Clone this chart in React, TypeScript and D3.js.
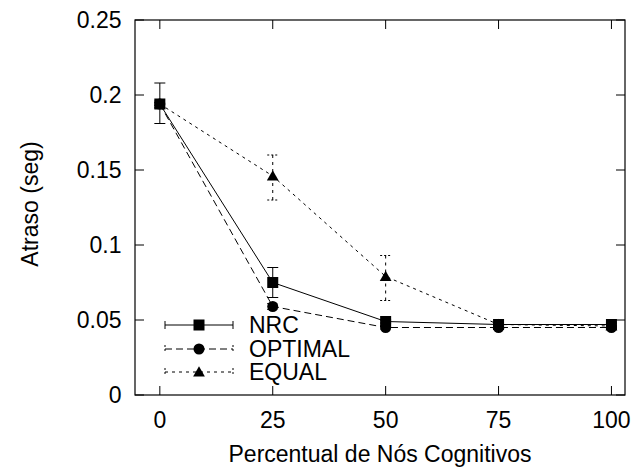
import React from "react";
import * as d3 from "d3";

// Delay (seconds) versus percentage of cognitive nodes, with error bars.
const percentages = [0, 25, 50, 75, 100];

const nrcMean = [0.194, 0.075, 0.049, 0.047, 0.047];
const nrcLow = [0.181, 0.065, 0.048, 0.046, 0.046];
const nrcHigh = [0.208, 0.085, 0.050, 0.048, 0.048];

const optimalMean = [0.194, 0.059, 0.045, 0.045, 0.045];
const optimalLow = [0.192, 0.057, 0.044, 0.044, 0.044];
const optimalHigh = [0.196, 0.061, 0.046, 0.046, 0.046];

const equalMean = [0.194, 0.146, 0.079, 0.047, 0.046];
const equalLow = [0.193, 0.130, 0.063, 0.046, 0.045];
const equalHigh = [0.195, 0.160, 0.093, 0.048, 0.047];

const xTicks = [0, 25, 50, 75, 100];
const yTicks = [0, 0.05, 0.1, 0.15, 0.2, 0.25];
const yTickLabels = ["0", "0.05", "0.1", "0.15", "0.2", "0.25"];

const seriesNames = ["NRC", "OPTIMAL", "EQUAL"];

const W = 635;
const H = 471;
const left = 135;
const right = 625;
const top = 20;
const bottom = 395;

const FONT = "'Liberation Sans', Arial, Helvetica, sans-serif";
const FS = 23;

type Marker = "square" | "circle" | "triangle";

interface Series {
  name: string;
  mean: number[];
  low: number[];
  high: number[];
  dash: string | undefined;
  marker: Marker;
}

const series: Series[] = [
  { name: seriesNames[2], mean: equalMean, low: equalLow, high: equalHigh, dash: "3,4", marker: "triangle" },
  { name: seriesNames[1], mean: optimalMean, low: optimalLow, high: optimalHigh, dash: "7,4", marker: "circle" },
  { name: seriesNames[0], mean: nrcMean, low: nrcLow, high: nrcHigh, dash: undefined, marker: "square" },
];

function MarkerShape({ kind, cx, cy }: { kind: Marker; cx: number; cy: number }) {
  if (kind === "square") {
    return <rect x={cx - 5.5} y={cy - 5.5} width={11} height={11} fill="#000" />;
  }
  if (kind === "circle") {
    return <circle cx={cx} cy={cy} r={5.5} fill="#000" />;
  }
  const s = d3.symbol().type(d3.symbolTriangle).size(60)();
  return <path d={s ?? ""} transform={`translate(${cx},${cy + 1})`} fill="#000" />;
}

export default function App() {
  const x = d3.scaleLinear().domain([-5.5, 103]).range([left, right]);
  const y = d3.scaleLinear().domain([0, 0.25]).range([bottom, top]);

  const line = d3
    .line<number>()
    .x((_, i) => x(percentages[i]))
    .y((d) => y(d));

  const legendOrder: Series[] = [series[2], series[1], series[0]];
  const legendY = [325, 349, 372];

  return (
    <svg
      width={W}
      height={H}
      style={{ position: "absolute", left: 0, top: 0, background: "#fff" }}
      fontFamily={FONT}
    >
      <rect x={0} y={0} width={W} height={H} fill="#fff" />

      {/* ticks (inward on all four sides) */}
      {yTicks.map((t, i) => (
        <g key={"yt" + i}>
          <line x1={left} x2={left + 9} y1={y(t)} y2={y(t)} stroke="#000" strokeWidth={1} />
          <line x1={right} x2={right - 9} y1={y(t)} y2={y(t)} stroke="#000" strokeWidth={1} />
          <text x={121.5} y={y(t) + 8} textAnchor="end" fontSize={FS}>
            {yTickLabels[i]}
          </text>
        </g>
      ))}
      {xTicks.map((t, i) => (
        <g key={"xt" + i}>
          <line x1={x(t)} x2={x(t)} y1={bottom} y2={bottom - 9} stroke="#000" strokeWidth={1} />
          <line x1={x(t)} x2={x(t)} y1={top} y2={top + 9} stroke="#000" strokeWidth={1} />
          <text x={x(t)} y={428} textAnchor="middle" fontSize={FS}>
            {t}
          </text>
        </g>
      ))}

      {/* series lines, error bars and markers */}
      {series.map((s) => (
        <g key={s.name}>
          <path d={line(s.mean) ?? ""} fill="none" stroke="#000" strokeWidth={1} strokeDasharray={s.dash} />
          {s.mean.map((m, i) => {
            const cx = x(percentages[i]);
            return (
              <g key={i}>
                <line x1={cx} x2={cx} y1={y(s.low[i])} y2={y(s.high[i])} stroke="#000" strokeWidth={1} strokeDasharray={s.dash} />
                <line x1={cx - 5.5} x2={cx + 5.5} y1={y(s.low[i])} y2={y(s.low[i])} stroke="#000" strokeWidth={1} strokeDasharray={s.dash ? "2,2" : undefined} />
                <line x1={cx - 5.5} x2={cx + 5.5} y1={y(s.high[i])} y2={y(s.high[i])} stroke="#000" strokeWidth={1} strokeDasharray={s.dash ? "2,2" : undefined} />
                <MarkerShape kind={s.marker} cx={cx} cy={y(m)} />
              </g>
            );
          })}
        </g>
      ))}

      {/* legend */}
      {legendOrder.map((s, i) => {
        const ly = legendY[i];
        return (
          <g key={"lg" + s.name}>
            <line x1={165} x2={233} y1={ly} y2={ly} stroke="#000" strokeWidth={1} strokeDasharray={s.dash} />
            <line x1={165} x2={165} y1={ly - 4} y2={ly + 4} stroke="#000" strokeWidth={1} strokeDasharray={s.dash ? "2,2" : undefined} />
            <line x1={233} x2={233} y1={ly - 4} y2={ly + 4} stroke="#000" strokeWidth={1} strokeDasharray={s.dash ? "2,2" : undefined} />
            <MarkerShape kind={s.marker} cx={199} cy={ly} />
            <text x={249} y={ly + 7.5} fontSize={FS}>
              {s.name}
            </text>
          </g>
        );
      })}

      {/* frame */}
      <rect x={left} y={top} width={right - left} height={bottom - top} fill="none" stroke="#000" strokeWidth={1.2} />

      {/* axis titles */}
      <text x={(left + right) / 2} y={462} textAnchor="middle" fontSize={FS}>
        Percentual de Nós Cognitivos
      </text>
      <text transform={`translate(38,204) rotate(-90)`} textAnchor="middle" fontSize={FS}>
        Atraso (seg)
      </text>
    </svg>
  );
}
